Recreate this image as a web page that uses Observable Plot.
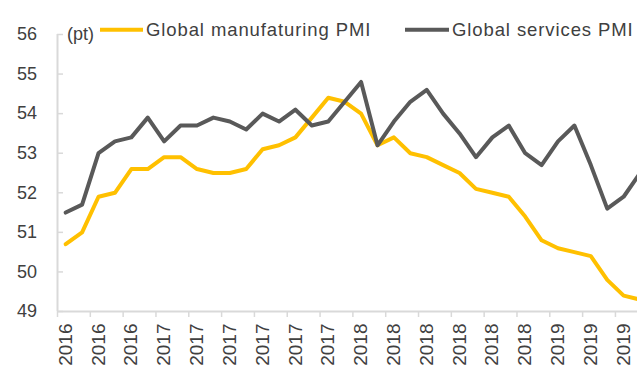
<!DOCTYPE html>
<html><head><meta charset="utf-8">
<script src="https://cdn.jsdelivr.net/npm/d3@7"></script>
<script src="https://cdn.jsdelivr.net/npm/@observablehq/plot@0.6"></script>
<style>
html,body{margin:0;padding:0;background:#fff;}
#wrap{position:relative;width:637px;height:368px;overflow:hidden;font-family:"Liberation Sans",Arial,sans-serif;}
#wrap svg{position:absolute;left:0;top:0;overflow:hidden;}
</style></head><body><div id="wrap"></div>
<script>
// Year labels, one every two months (Jul 2016 - May 2019)
const yearLabels = ["2016","2016","2016","2017","2017","2017","2017","2017","2017","2018","2018","2018","2018","2018","2018","2019","2019","2019"];
// Monthly values (pt)
const manufacturing = [50.7,51.0,51.9,52.0,52.6,52.6,52.9,52.9,52.6,52.5,52.5,52.6,53.1,53.2,53.4,53.9,54.4,54.3,54.0,53.2,53.4,53.0,52.9,52.7,52.5,52.1,52.0,51.9,51.4,50.8,50.6,50.5,50.4,49.8,49.4,49.3];
const services = [51.5,51.7,53.0,53.3,53.4,53.9,53.3,53.7,53.7,53.9,53.8,53.6,54.0,53.8,54.1,53.7,53.8,54.3,54.8,53.2,53.8,54.3,54.6,54.0,53.5,52.9,53.4,53.7,53.0,52.7,53.3,53.7,52.7,51.6,51.9,52.5];
const yTicks = [49,50,51,52,53,54,55,56];
const xTicks = [0,2,4,6,8,10,12,14,16,18,20,22,24,26,28,30,32,34];
const seriesNames = ["Global manufaturing PMI","Global services PMI"];
const seriesColors = ["#FFC000","#595959"];
const unitLabel = "(pt)";

const FONT = '"Liberation Sans", Arial, sans-serif';
const TXT = "#404040";
const AX = "#d9d9d9";

const chart = Plot.plot({
  width: 637, height: 368,
  marginTop: 34, marginBottom: 57, marginLeft: 57, marginRight: 0,
  style: {fontFamily: FONT, background: "white", overflow: "hidden"},
  x: {type: "linear", domain: [0, 36], range: [57, 57 + 16.41 * 36]},
  y: {domain: [49, 56]},
  marks: [
    Plot.axisX({ticks: xTicks, tickSize: 6, tickFormat: () => "", stroke: AX, strokeWidth: 1.5, label: null}),
    Plot.axisY({ticks: yTicks, tickSize: 6, dx: 6, tickFormat: () => "", stroke: AX, strokeWidth: 1.5, label: null}),
    Plot.axisY({ticks: yTicks, tickSize: 0, tickPadding: 20.5, tickFormat: d => String(d), fontSize: 18, fill: TXT, label: null}),
    Plot.ruleY([49], {stroke: AX, strokeWidth: 2}),
    Plot.ruleX([0], {stroke: AX, strokeWidth: 2}),
    Plot.text(yearLabels, {x: (d, i) => 2 * i + 0.5, text: d => d, frameAnchor: "bottom", rotate: -90,
      textAnchor: "end", lineAnchor: "middle", dy: 12, fontSize: 19, fill: TXT}),
    Plot.lineY(manufacturing, {x: (d, i) => i + 0.5, y: d => d, stroke: seriesColors[0], strokeWidth: 4, strokeLinejoin: "round"}),
    Plot.lineY(services, {x: (d, i) => i + 0.5, y: d => d, stroke: seriesColors[1], strokeWidth: 4, strokeLinejoin: "round"})
  ]
});
document.getElementById("wrap").appendChild(chart);

// Legend + unit label overlay
const ov = d3.select("#wrap").append("svg")
  .attr("width", 637).attr("height", 368)
  .style("pointer-events", "none")
  .style("font-family", FONT);
ov.append("text").attr("x", 67).attr("y", 40).attr("font-size", 18).attr("fill", TXT).text(unitLabel);
const legendPos = [{x0: 100, x1: 143, tx: 146}, {x0: 405, x1: 449, tx: 452}];
seriesNames.forEach((name, i) => {
  const p = legendPos[i];
  ov.append("line").attr("x1", p.x0).attr("x2", p.x1).attr("y1", 29.7).attr("y2", 29.7)
    .attr("stroke", seriesColors[i]).attr("stroke-width", 4);
  ov.append("text").attr("x", p.tx).attr("y", 36).attr("font-size", 18.5)
    .attr("letter-spacing", "0.9px").attr("fill", TXT).text(name);
});
</script>
</body></html>
